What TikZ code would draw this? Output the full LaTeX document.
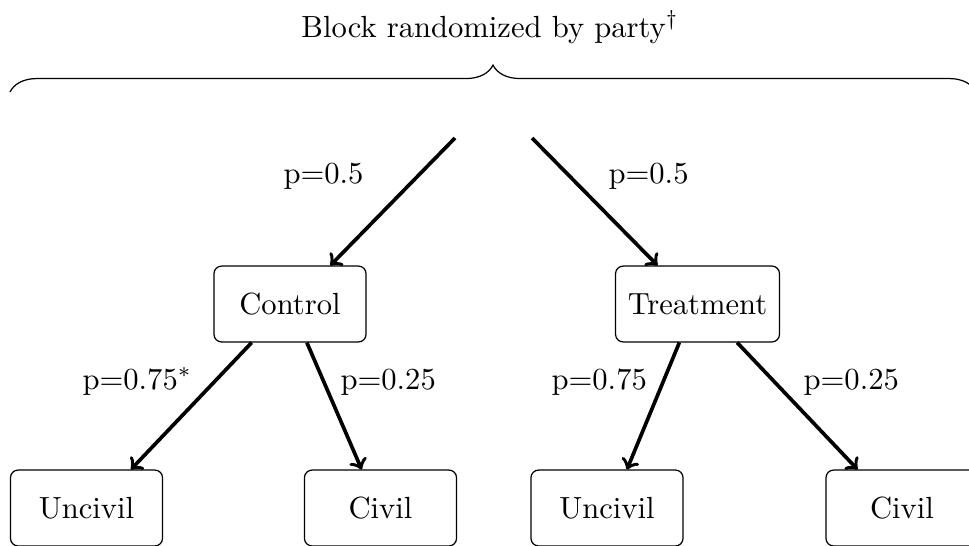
\documentclass[tikz,border=0pt]{standalone}
\usetikzlibrary{calc,decorations.pathreplacing}
\begin{document}
\begin{tikzpicture}[x=0.3268pt,y=-0.3268pt,
  box/.style={draw,rounded corners=2.5pt,minimum width=49.7pt,minimum height=24.8pt,inner xsep=4pt,line width=0.4pt},
  arr/.style={->,line width=1.2pt},
  lbl/.style={anchor=base west,inner sep=0pt}]
\useasboundingbox (0,0) rectangle (969,545);
\node[anchor=base,inner sep=0pt] (title) at (490,37) {Block randomized by party$^\dagger$};
\draw[decorate,decoration={brace,amplitude=8.8pt},line width=0.4pt] (10,92) -- (976,92);
\coordinate (sl) at (455,138);
\coordinate (sr) at (532,138);
\node[box] (ctrl) at (290,304) {Control};
\node[box] (treat) at (697.5,304) {Treatment};
\node[box] (unc1) at (86.5,508) {Uncivil};
\node[box] (civ1) at (380.5,508) {Civil};
\node[box] (unc2) at (607,508) {Uncivil};
\node[box] (civ2) at (902,508) {Civil};
\draw[arr] (sl) -- ($(ctrl.north west)!0.763!(ctrl.north east)$);
\draw[arr] (sr) -- ($(treat.north west)!0.258!(treat.north east)$);
\draw[arr] ($(ctrl.south west)!0.25!(ctrl.south east)$) -- ($(unc1.north west)!0.79!(unc1.north east)$);
\draw[arr] ($(ctrl.south west)!0.61!(ctrl.south east)$) -- ($(civ1.north west)!0.377!(civ1.north east)$);
\draw[arr] ($(treat.south west)!0.39!(treat.south east)$) -- ($(unc2.north west)!0.63!(unc2.north east)$);
\draw[arr] ($(treat.south west)!0.74!(treat.south east)$) -- ($(civ2.north west)!0.21!(civ2.north east)$);
\node[lbl] (l1) at (283,183) {p=0.5};
\node[lbl] (l2) at (608,183) {p=0.5};
\node[lbl] (l3) at (82,389) {p=0.75$^*$};
\node[lbl] (l4) at (340,389) {p=0.25};
\node[lbl] (l5) at (551,389) {p=0.75};
\node[lbl] (l6) at (803,389) {p=0.25};
\end{tikzpicture}
\end{document}
